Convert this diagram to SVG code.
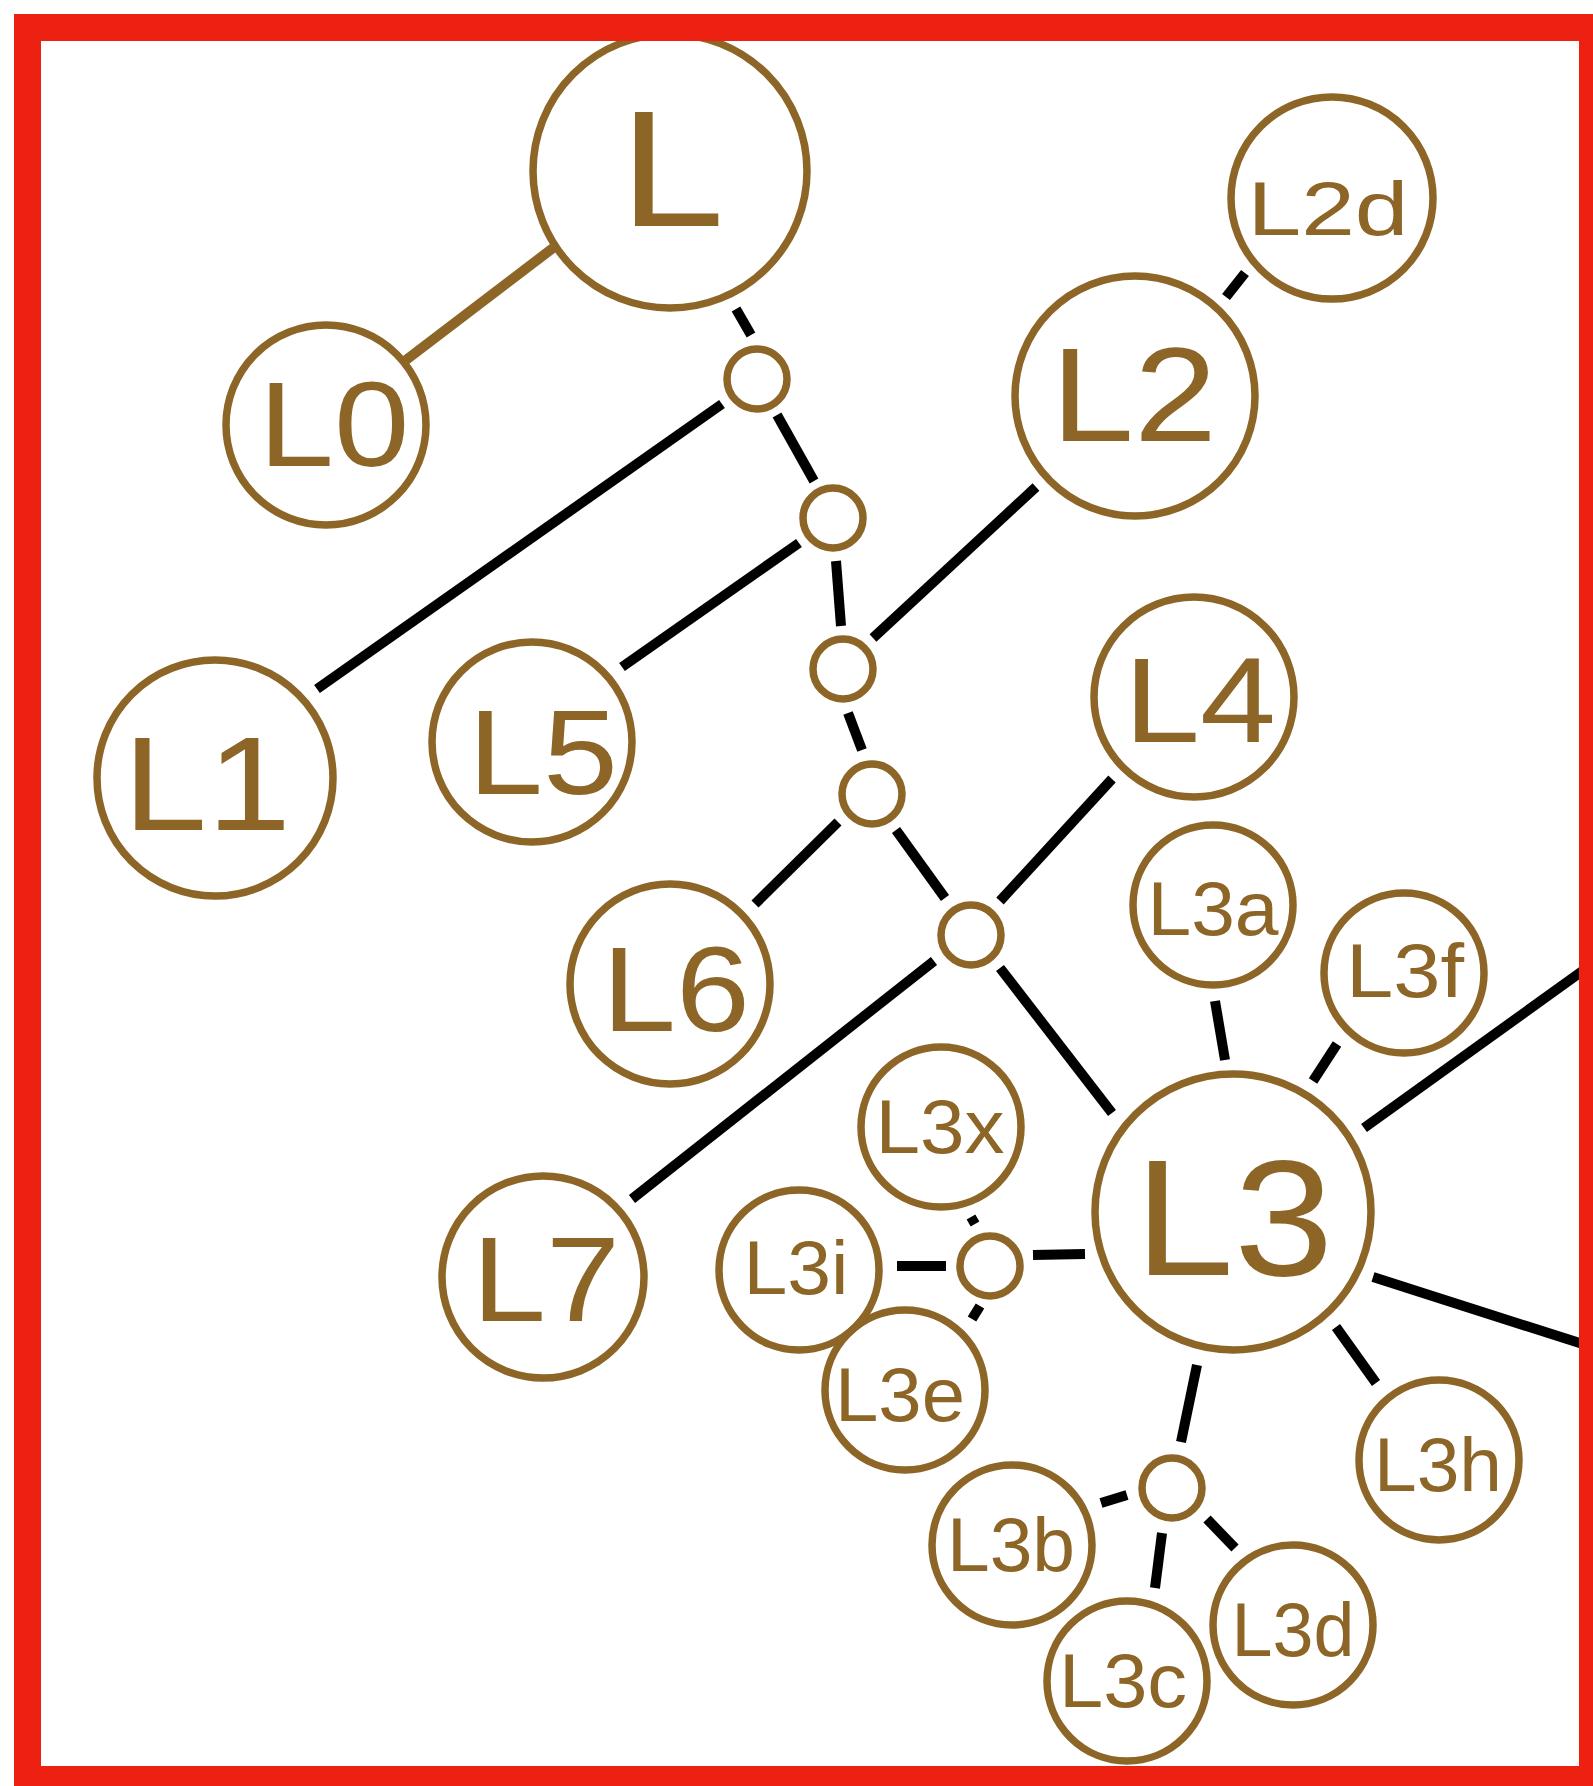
<svg xmlns="http://www.w3.org/2000/svg" width="1593" height="1786" viewBox="0 0 1593 1786">
  <style>
    .node { fill: none; stroke: #8C6527; stroke-width: 7.5; }
    .dot { fill: none; stroke: #8C6527; stroke-width: 7.5; }
    .lbl { fill: #8C6527; font-family: "Liberation Sans", Arial, sans-serif; text-anchor: middle; }
    .xl { font-size: 165px; }
    .lg { font-size: 133px; }
    .md { font-size: 120px; }
    .sm { font-size: 76px; }
    .link { stroke: #000; stroke-width: 10; stroke-linecap: butt; fill: none; }
    .trunk { stroke: #8C6527; stroke-width: 10; stroke-linecap: butt; }
    .frame { fill: none; stroke: #EC2111; stroke-width: 27; }
  </style>
  <rect x="0" y="0" width="1593" height="1786" fill="#fff"/>

  <!-- connectors -->
  <g id="connectors">
    <line class="trunk" x1="553" y1="248" x2="406" y2="360"/>
    <line class="link" x1="736" y1="309" x2="751" y2="335"/>
    <line class="link" x1="777" y1="415" x2="814" y2="481"/>
    <line class="link" x1="722" y1="404" x2="317" y2="689"/>
    <line class="link" x1="799" y1="543" x2="622" y2="667"/>
    <line class="link" x1="836" y1="561" x2="841" y2="626"/>
    <line class="link" x1="873" y1="638" x2="1036" y2="487"/>
    <line class="link" x1="848" y1="713" x2="862" y2="750"/>
    <line class="link" x1="838" y1="822" x2="755" y2="904"/>
    <line class="link" x1="896" y1="830" x2="945" y2="898"/>
    <line class="link" x1="1000" y1="901" x2="1112" y2="779"/>
    <line class="link" x1="934" y1="961" x2="632" y2="1199"/>
    <line class="link" x1="1000" y1="968" x2="1112" y2="1113"/>
    <line class="link" x1="1226" y1="297" x2="1245" y2="273"/>
    <line class="link" x1="1215" y1="1001" x2="1225" y2="1060"/>
    <line class="link" x1="1337" y1="1044" x2="1313" y2="1081"/>
    <line class="link" x1="1364" y1="1128" x2="1620" y2="944"/>
    <line class="link" x1="1373" y1="1277" x2="1620" y2="1356"/>
    <line class="link" x1="1336" y1="1327" x2="1376" y2="1383"/>
    <line class="link" x1="1197" y1="1365" x2="1181" y2="1442"/>
    <line class="link" x1="1101" y1="1503" x2="1127" y2="1495"/>
    <line class="link" x1="1162" y1="1533" x2="1155" y2="1588"/>
    <line class="link" x1="1207" y1="1519" x2="1235" y2="1548"/>
    <line class="link" x1="1033" y1="1255" x2="1085" y2="1254"/>
    <line class="link" x1="897" y1="1266" x2="946" y2="1266"/>
    <line class="link" x1="971" y1="1217" x2="975" y2="1224"/>
    <line class="link" x1="980" y1="1306" x2="972" y2="1319"/>
  </g>

  <!-- junction points -->
  <g id="j1"><circle class="dot" cx="757" cy="379" r="30"/></g>
  <g id="j2"><circle class="dot" cx="833" cy="518" r="30"/></g>
  <g id="j3"><circle class="dot" cx="843" cy="669" r="30"/></g>
  <g id="j4"><circle class="dot" cx="872" cy="794" r="30"/></g>
  <g id="j5"><circle class="dot" cx="971" cy="935" r="30"/></g>
  <g id="j6"><circle class="dot" cx="990" cy="1266" r="30"/></g>
  <g id="j7"><circle class="dot" cx="1172" cy="1488" r="30"/></g>

  <!-- labelled nodes -->
  <g id="L"><circle class="node" cx="670" cy="171" r="137"/><text class="lbl xl" x="672" y="226" textLength="105" lengthAdjust="spacingAndGlyphs">L</text></g>
  <g id="L0"><circle class="node" cx="326" cy="425" r="100"/><text class="lbl md" x="334" y="466" textLength="151" lengthAdjust="spacingAndGlyphs">L0</text></g>
  <g id="L1"><circle class="node" cx="215" cy="778" r="118"/><text class="lbl lg" x="207" y="830" textLength="168" lengthAdjust="spacingAndGlyphs">L1</text></g>
  <g id="L2"><circle class="node" cx="1135" cy="396" r="120"/><text class="lbl lg" x="1134" y="441" textLength="166" lengthAdjust="spacingAndGlyphs">L2</text></g>
  <g id="L2d"><circle class="node" cx="1332" cy="198" r="101"/><text class="lbl sm" x="1328" y="235" font-size="94" textLength="161" lengthAdjust="spacingAndGlyphs">L2d</text></g>
  <g id="L4"><circle class="node" cx="1194" cy="697" r="100"/><text class="lbl md" x="1200" y="742" textLength="152" lengthAdjust="spacingAndGlyphs">L4</text></g>
  <g id="L5"><circle class="node" cx="532" cy="742" r="100"/><text class="lbl md" x="543" y="794" textLength="150" lengthAdjust="spacingAndGlyphs">L5</text></g>
  <g id="L6"><circle class="node" cx="670" cy="984" r="100"/><text class="lbl md" x="676" y="1031" textLength="148" lengthAdjust="spacingAndGlyphs">L6</text></g>
  <g id="L7"><circle class="node" cx="543" cy="1277" r="101"/><text class="lbl md" x="546" y="1321" textLength="148" lengthAdjust="spacingAndGlyphs">L7</text></g>
  <g id="L3"><circle class="node" cx="1233" cy="1212" r="138"/><text class="lbl xl" x="1234" y="1275" textLength="199" lengthAdjust="spacingAndGlyphs">L3</text></g>
  <g id="L3a"><circle class="node" cx="1213" cy="905" r="80"/><text class="lbl sm" x="1213" y="935" textLength="131" lengthAdjust="spacingAndGlyphs">L3a</text></g>
  <g id="L3f"><circle class="node" cx="1404" cy="973" r="80"/><text class="lbl sm" x="1405" y="997" textLength="118" lengthAdjust="spacingAndGlyphs">L3f</text></g>
  <g id="L3h"><circle class="node" cx="1439" cy="1460" r="80"/><text class="lbl sm" x="1438" y="1491" textLength="128" lengthAdjust="spacingAndGlyphs">L3h</text></g>
  <g id="L3d"><circle class="node" cx="1293" cy="1625" r="80"/><text class="lbl sm" x="1293" y="1656" textLength="123" lengthAdjust="spacingAndGlyphs">L3d</text></g>
  <g id="L3c"><circle class="node" cx="1127" cy="1681" r="80"/><text class="lbl sm" x="1123" y="1707" textLength="128" lengthAdjust="spacingAndGlyphs">L3c</text></g>
  <g id="L3b"><circle class="node" cx="1012" cy="1545" r="80"/><text class="lbl sm" x="1011" y="1571" textLength="128" lengthAdjust="spacingAndGlyphs">L3b</text></g>
  <g id="L3e"><circle class="node" cx="905" cy="1390" r="80"/><text class="lbl sm" x="900" y="1421" textLength="130" lengthAdjust="spacingAndGlyphs">L3e</text></g>
  <g id="L3i"><circle class="node" cx="799" cy="1270" r="80"/><text class="lbl sm" x="796" y="1294" textLength="105" lengthAdjust="spacingAndGlyphs">L3i</text></g>
  <g id="L3x"><circle class="node" cx="941" cy="1127" r="80"/><text class="lbl sm" x="940" y="1153" textLength="129" lengthAdjust="spacingAndGlyphs">L3x</text></g>

  <!-- outer frame -->
  <rect class="frame" x="27.5" y="27.5" width="1565" height="1752"/>
</svg>
